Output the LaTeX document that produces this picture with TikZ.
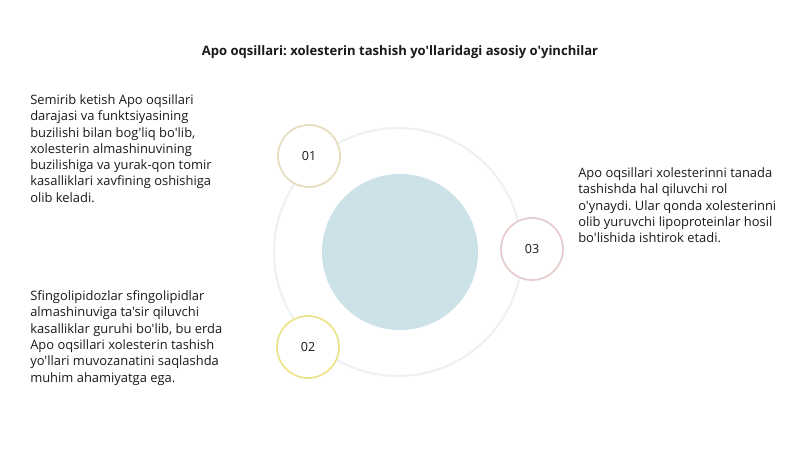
\documentclass[tikz,border=0pt]{standalone}
\usepackage{fontspec}
\setmainfont{Open Sans}[Ligatures=TeXOff]
\frenchspacing
\definecolor{ringc}{HTML}{EDF1F3}
\definecolor{innerc}{HTML}{CDE2E8}
\definecolor{c1}{HTML}{E6DDBE}
\definecolor{c2}{HTML}{EDE38A}
\definecolor{c3}{HTML}{E6CCCC}
\definecolor{txt}{HTML}{1A1A1A}
\begin{document}
\begin{tikzpicture}[x=0.75pt,y=-0.75pt,
  bodytext/.style={anchor=north west,inner sep=0pt,align=left,text=txt,font=\fontsize{9.7}{12.2}\selectfont},
  numcircle/.style={circle,fill=white,line width=1.3pt,minimum size=46.5pt,inner sep=0pt,text=txt,font=\fontsize{9.4}{11}\selectfont}]
\useasboundingbox[fill=white] (0,0) rectangle (800,450);
\node[font=\bfseries\fontsize{9.8}{12}\selectfont,text=txt] (title) at (400,52) {Apo oqsillari: xolesterin tashish yo'llaridagi asosiy o'yinchilar};
\node[circle,draw=ringc,line width=1.5pt,minimum size=186pt,inner sep=0pt] (ring) at (398,252) {};
\node[circle,fill=innerc,minimum size=117pt,inner sep=0pt] (core) at (400,252) {};
\node[numcircle,draw=c1] (n1) at (309,156) {01};
\node[numcircle,draw=c2] (n2) at (308,347) {02};
\node[numcircle,draw=c3] (n3) at (532,249) {03};
\node[bodytext] (t1) at (30,94.5) {Semirib ketish Apo oqsillari\\darajasi va funktsiyasining\\buzilishi bilan bog'liq bo'lib,\\xolesterin almashinuvining\\buzilishiga va yurak-qon tomir\\kasalliklari xavfining oshishiga\\olib keladi.};
\node[bodytext] (t2) at (30,290.5) {Sfingolipidozlar sfingolipidlar\\almashinuviga ta'sir qiluvchi\\kasalliklar guruhi bo'lib, bu erda\\Apo oqsillari xolesterin tashish\\yo'llari muvozanatini saqlashda\\muhim ahamiyatga ega.};
\node[bodytext] (t3) at (578,167.5) {Apo oqsillari xolesterinni tanada\\tashishda hal qiluvchi rol\\o'ynaydi. Ular qonda xolesterinni\\olib yuruvchi lipoproteinlar hosil\\bo'lishida ishtirok etadi.};
\end{tikzpicture}
\end{document}
